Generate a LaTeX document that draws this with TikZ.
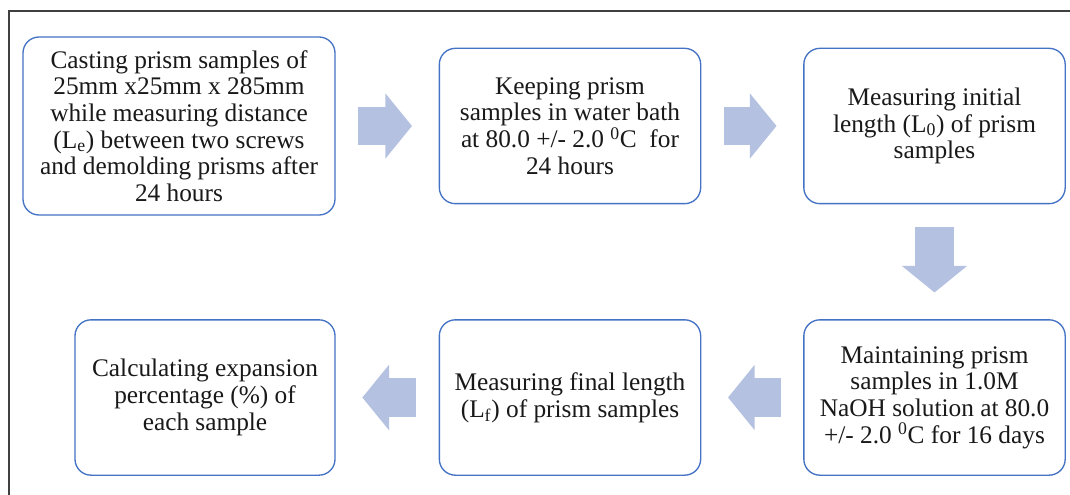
\documentclass[tikz,border=0pt]{standalone}
\usepackage{fontspec}
\setmainfont{Liberation Serif}
\usetikzlibrary{arrows.meta}
\definecolor{boxblue}{HTML}{4472C4}
\definecolor{flowblue}{HTML}{B4C1E1}
\definecolor{framegray}{HTML}{404040}
\tikzstyle{stepbox}=[rectangle, draw=boxblue, line width=1pt, rounded corners=12pt,
    fill=white, align=center, inner sep=2pt, minimum width=196pt, minimum height=116.5pt,
    font=\fontsize{19pt}{20pt}\selectfont, text=black!90]
\newcommand{\stepbox}{\node[stepbox]}

\begin{document}
\begin{tikzpicture}[x=0.75pt, y=-0.75pt
    ,every edge/.style={
        draw=flowblue, line width=29pt,
        shorten <=17pt, shorten >=20pt,
        -{Triangle[length=20pt, width=48pt]} }
]
\useasboundingbox (0,0) rectangle (1070,495);
\draw[framegray, line width=0.8pt] (9,495) -- (9,11) -- (1070,11);
\stepbox[minimum width=234pt, minimum height=133.5pt] (cast) at (179,126)
    {Casting prism samples of\\25mm x25mm x 285mm\\while measuring distance\\
     (L\textsubscript{e}) between two screws\\and demolding prisms after\\24 hours};
\stepbox (bath) at (570,126)
    {Keeping prism\\samples in water bath\\at 80.0 +/- 2.0 \textsuperscript{0}C\ \ for\\24 hours};
\stepbox (init) at (934.5,126)
    {Measuring initial\\length (L\textsubscript{0}) of prism\\samples};
\stepbox (naoh) at (934.5,397.5)
    {Maintaining prism\\samples in 1.0M\\NaOH solution at 80.0\\+/- 2.0 \textsuperscript{0}C for 16 days};
\stepbox (final) at (570,397.5)
    {Measuring final length\\(L\textsubscript{f}) of prism samples};
\stepbox[minimum width=195pt] (calc) at (205,397.5)
    {Calculating expansion\\percentage (\%) of\\each sample};
\path
(cast) edge (bath)
(bath) edge (init)
(init) edge (naoh)
(naoh) edge (final)
(final) edge (calc)
;
\end{tikzpicture}
\end{document}
